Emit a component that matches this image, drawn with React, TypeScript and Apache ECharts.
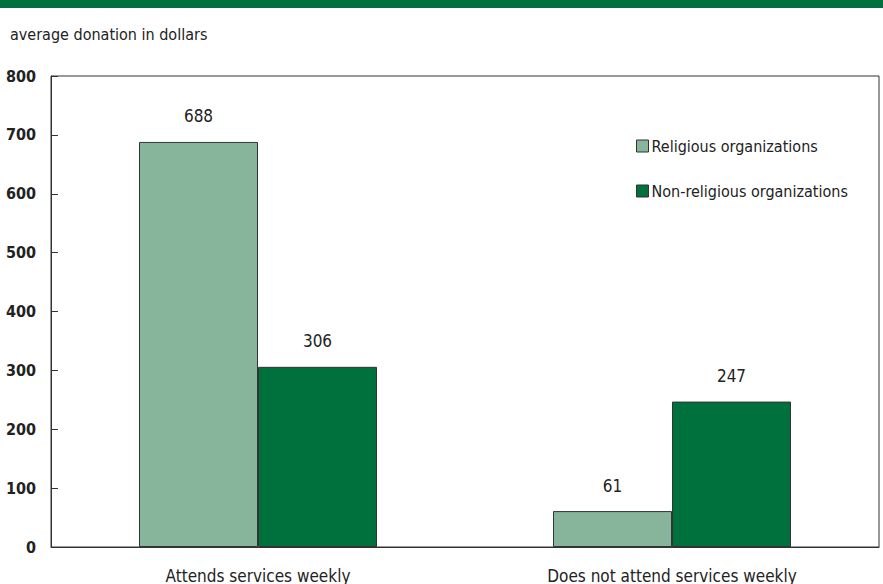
import React, { useEffect, useRef } from "react";
import * as echarts from "echarts";

const categories = ["Attends services weekly", "Does not attend services weekly"];
const seriesNames = ["Religious organizations", "Non-religious organizations"];
const religious = [688, 61];
const nonReligious = [306, 247];
const yTicks = [0, 100, 200, 300, 400, 500, 600, 700, 800];
const yTitle = "average donation in dollars";

const FONT = "'DejaVu Sans Condensed', 'Liberation Sans Narrow', sans-serif";
const LIGHT = "#86b59b";
const DARK = "#00703c";

export default function App() {
  const ref = useRef<HTMLDivElement>(null);
  useEffect(() => {
    document.body.style.margin = "0";
    const chart = echarts.init(ref.current!, null, { renderer: "svg" });
    chart.setOption({
      animation: false,
      textStyle: { fontFamily: FONT },
      graphic: [
        { type: "rect", left: 0, top: 0, shape: { width: 883, height: 8 }, style: { fill: DARK } },
        {
          type: "text",
          left: 10,
          top: 26,
          style: { text: yTitle, font: `16px ${FONT}`, fill: "#222" },
        },
      ],
      legend: {
        orient: "vertical",
        left: 636,
        top: 138,
        padding: 0,
        itemWidth: 12,
        itemHeight: 12,
        itemGap: 29,
        icon: "rect",
        data: seriesNames.map((n, i) => ({
          name: n,
          itemStyle: { color: i === 0 ? LIGHT : DARK, borderColor: "#333", borderWidth: 1 },
        })),
        textStyle: { fontFamily: FONT, fontSize: 16, color: "#222", padding: [0, 0, 0, -2] },
      },
      grid: {
        left: 51,
        right: 4,
        top: 76,
        bottom: 36,
        show: true,
        borderColor: "#333",
        borderWidth: 1,
      },
      xAxis: {
        type: "category",
        data: categories,
        axisLine: { lineStyle: { color: "#333", width: 1 } },
        axisTick: { show: false },
        axisLabel: { fontFamily: FONT, fontSize: 17, color: "#222", margin: 20 },
      },
      yAxis: {
        type: "value",
        min: 0,
        max: 800,
        interval: 100,
        axisLine: { show: true, lineStyle: { color: "#333", width: 1 } },
        axisTick: { show: true, inside: true, length: 7, lineStyle: { color: "#333" } },
        splitLine: { show: false },
        axisLabel: {
          fontFamily: FONT,
          fontSize: 16,
          fontWeight: "bold",
          color: "#222",
          margin: 15,
          formatter: (v: number) => (yTicks.includes(v) ? String(v) : ""),
        },
      },
      series: [
        {
          name: seriesNames[0],
          type: "bar",
          data: religious,
          barWidth: 119,
          barGap: "0%",
          itemStyle: { color: LIGHT, borderColor: "#333", borderWidth: 1 },
          label: { show: true, position: "top", distance: 17, fontFamily: FONT, fontSize: 17, color: "#222" },
        },
        {
          name: seriesNames[1],
          type: "bar",
          data: nonReligious,
          barWidth: 119,
          barGap: "0%",
          itemStyle: { color: DARK, borderColor: "#333", borderWidth: 1 },
          label: { show: true, position: "top", distance: 17, fontFamily: FONT, fontSize: 17, color: "#222" },
        },
      ],
    });
    return () => chart.dispose();
  }, []);
  return <div ref={ref} style={{ position: "absolute", left: 0, top: 0, width: 883, height: 584 }} />;
}
